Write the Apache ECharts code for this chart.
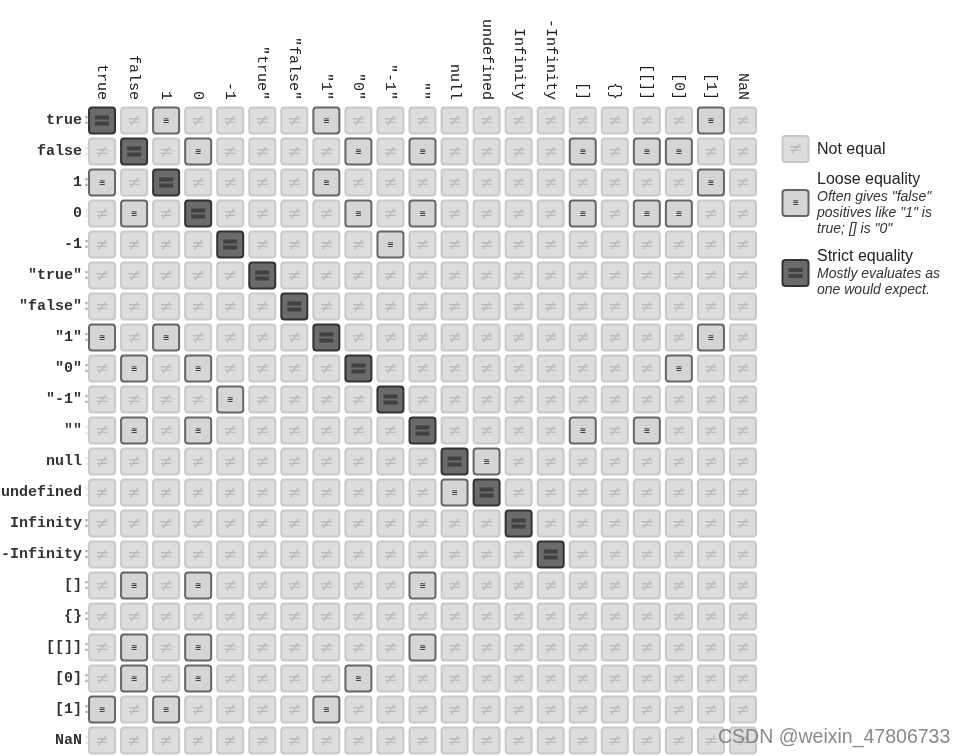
<!DOCTYPE html>
<html>
<head>
<meta charset="utf-8">
<script src="https://cdn.jsdelivr.net/npm/echarts@6/dist/echarts.min.js"></script>
<style>
html,body{margin:0;padding:0;background:#fff;}
#chart{width:965px;height:756px;}
</style>
</head>
<body>
<div id="chart"></div>
<script>
// Values compared (rows and columns share the same list)
const values = ['true','false','1','0','-1','"true"','"false"','"1"','"0"','"-1"','""','null','undefined','Infinity','-Infinity','[]','{}','[[]]','[0]','[1]','NaN'];
// Truthiness of each value (colon after row label is darker for truthy values)
const truthy = [1,0,1,0,1,1,1,1,1,1,0,0,0,1,1,1,1,1,1,1,0];
// Equality codes per row: 0 = not equal, 1 = loose (==), 2 = strict (===)
const matrix = [
  '201000010000000000010',
  '020100001010000101100',
  '102000010000000000010',
  '010200001010000101100',
  '000020000100000000000',
  '000002000000000000000',
  '000000200000000000000',
  '101000020000000000010',
  '010100002000000000100',
  '000010000200000000000',
  '010100000020000101000',
  '000000000002100000000',
  '000000000001200000000',
  '000000000000020000000',
  '000000000000002000000',
  '010100000010000000000',
  '000000000000000000000',
  '010100000010000000000',
  '010100001000000000000',
  '101000010000000000000',
  '000000000000000000000'
];
const legendItems = [
  {title: 'Not equal', lines: []},
  {title: 'Loose equality', lines: ['Often gives "false"', 'positives like "1" is', 'true; [] is "0"']},
  {title: 'Strict equality', lines: ['Mostly evaluates as', 'one would expect.']}
];

const cells = [];
matrix.forEach((row, r) => {
  row.split('').forEach((ch, c) => { cells.push([c, r, +ch]); });
});

const cellStyles = [
  {fill: '#dddddd', stroke: '#c9c9c9'},
  {fill: '#d5d5d5', stroke: '#666666'},
  {fill: '#6b6b6b', stroke: '#333333'}
];

function cellGraphic(cx, cy, t) {
  const s = cellStyles[t];
  const ch = [{
    type: 'rect',
    shape: {x: cx - 13, y: cy - 13, width: 26, height: 26, r: 3},
    style: {fill: s.fill, stroke: s.stroke, lineWidth: 2}
  }];
  if (t === 0) {
    ch.push({type: 'text', style: {x: cx, y: cy + 1, text: '≠', fill: '#bcbcbc',
      font: '17px "DejaVu Sans"', align: 'center', verticalAlign: 'middle'}});
  } else if (t === 1) {
    ch.push({type: 'text', style: {x: cx, y: cy, text: '≅', fill: '#444',
      font: 'bold 8px "DejaVu Sans"', align: 'center', verticalAlign: 'middle'}});
  } else {
    ch.push({type: 'rect', shape: {x: cx - 7, y: cy - 5, width: 14, height: 4}, style: {fill: '#414141'}});
    ch.push({type: 'rect', shape: {x: cx - 7, y: cy + 1, width: 14, height: 4}, style: {fill: '#414141'}});
  }
  return ch;
}

const graphics = [];
const legendY = [149, 203, 273];
const legendTitleY = [150, 180, 257];
legendItems.forEach((it, i) => {
  graphics.push({type: 'group', children: cellGraphic(795.5, legendY[i], i)});
  graphics.push({type: 'text', z: 10,
    style: {x: 817, y: legendTitleY[i], text: it.title, fill: '#222', verticalAlign: 'middle',
      font: '16px "Liberation Sans", Arial, sans-serif'}});
  it.lines.forEach((ln, k) => {
    graphics.push({type: 'text', z: 10,
      style: {x: 817, y: legendTitleY[i] + 17 + k * 16, text: ln, fill: '#333', verticalAlign: 'middle',
        font: 'italic 14px "Liberation Sans", Arial, sans-serif'}});
  });
});
graphics.push({type: 'text', z: 100, zlevel: 1,
  style: {x: 718, y: 738, text: 'CSDN @weixin_47806733', fill: 'rgba(130,130,130,0.95)', verticalAlign: 'middle',
    font: '19.5px "Liberation Sans", Arial, sans-serif'}});

const chart = echarts.init(document.getElementById('chart'));
chart.setOption({
  animation: false,
  grid: {left: 86, top: 105, width: 673, height: 651, containLabel: false, outerBoundsMode: 'none'},
  xAxis: {
    type: 'category', position: 'top', data: values,
    axisLine: {show: false}, axisTick: {show: false}, splitLine: {show: false},
    axisLabel: {interval: 0, rotate: 90, margin: 5, color: '#222',
      fontFamily: '"Liberation Mono", "Courier New", monospace', fontSize: 15}
  },
  yAxis: {
    type: 'category', inverse: true, data: values,
    axisLine: {show: false}, axisTick: {show: false}, splitLine: {show: false},
    axisLabel: {interval: 0, margin: -5, color: '#333', fontWeight: 'bold',
      fontFamily: '"Liberation Mono", "Courier New", monospace', fontSize: 15,
      formatter: (v, i) => v + (truthy[i] ? '{t|:}' : '{f|:}'),
      rich: {
        t: {color: '#a8a8a8', fontWeight: 'bold', fontFamily: '"Liberation Mono", monospace', fontSize: 15},
        f: {color: '#e4e4e4', fontWeight: 'bold', fontFamily: '"Liberation Mono", monospace', fontSize: 15}
      }}
  },
  graphic: graphics,
  series: [{
    type: 'custom',
    data: cells,
    encode: {x: 0, y: 1},
    renderItem: (params, api) => {
      const p = api.coord([api.value(0), api.value(1)]);
      return {type: 'group', children: cellGraphic(p[0], p[1], api.value(2))};
    }
  }]
});
</script>
</body>
</html>
